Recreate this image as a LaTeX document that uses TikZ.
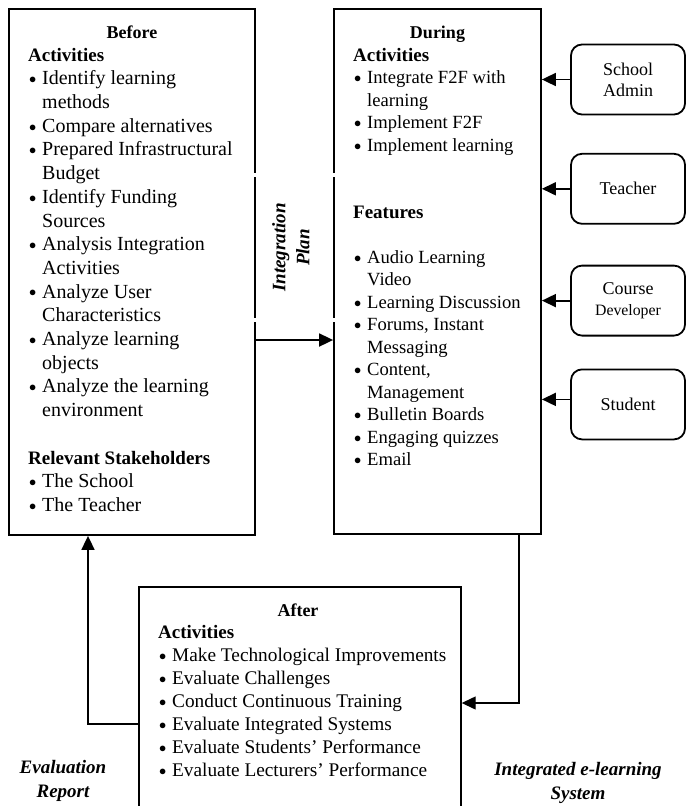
\documentclass[tikz,border=0pt]{standalone}
\usepackage{fontspec}
\setmainfont{Liberation Serif}
\usetikzlibrary{positioning,arrows.meta}
\newcommand{\itm}[1]{\hspace*{1pt}\makebox[13pt][l]{\raisebox{1.2pt}{\fontsize{15}{15}\selectfont$\bullet$}}#1}
\newcommand{\cnt}[1]{\hspace*{14pt}#1}
\newcommand{\hd}[1]{{\fontsize{19}{23}\selectfont\bfseries #1}}
\tikzset{
    phase/.style={draw,line width=1.8pt,inner sep=0pt},
    phasetitle/.style={anchor=base,inner sep=0pt,font=\fontsize{18}{20}\selectfont\bfseries},
    phasetext/.style={anchor=north west,align=left,inner sep=0pt,execute at begin node=\strut},
    actor/.style={draw,line width=1.8pt,rounded corners=11pt,minimum width=114pt,minimum height=70pt,inner sep=0pt,align=center,font=\fontsize{18}{21}\selectfont},
    flow/.style={draw,line width=1.8pt,-{Triangle[length=14pt,width=13pt]}},
    caption/.style={align=center,inner sep=0pt,font=\fontsize{19}{24}\selectfont\bfseries\itshape},
}

\begin{document}
\begin{tikzpicture}[x=1pt,y=-1pt]
    \useasboundingbox (0,0) rectangle (686,806);
    \clip (0,0) rectangle (686,806);

    % the three phases
    \node[phase,minimum width=246pt,minimum height=526pt] (before) at (132,272) {};
    \node[phase,minimum width=207pt,minimum height=525pt] (during) at (437.5,271.5) {};
    \node[phase,line width=1.4pt,minimum width=322pt,minimum height=232pt] (after) at (300,703) {};

    \node[phasetitle] (beforetitle) at (132,38) {Before};
    \node[phasetitle] (duringtitle) at (437.5,38) {During};
    \node[phasetitle] (aftertitle) at (298,616) {After};

    \node[phasetext,font=\fontsize{20}{23.7}\selectfont] (beforetext) at (28,47.8) {%
        \hd{Activities}\\
        \itm{Identify learning}\\
        \cnt{methods}\\
        \itm{Compare alternatives}\\
        \itm{Prepared Infrastructural}\\
        \cnt{Budget}\\
        \itm{Identify Funding}\\
        \cnt{Sources}\\
        \itm{Analysis Integration}\\
        \cnt{Activities}\\
        \itm{Analyze User}\\
        \cnt{Characteristics}\\
        \itm{Analyze learning}\\
        \cnt{objects}\\
        \itm{Analyze the learning}\\
        \cnt{environment}\\[23.7pt]
        \hd{Relevant Stakeholders}\\
        \itm{The School}\\
        \itm{The Teacher}};

    \node[phasetext,font=\fontsize{18.6}{22.5}\selectfont] (duringtext) at (353,48) {%
        \hd{Activities}\\
        \itm{Integrate F2F with}\\
        \cnt{learning}\\
        \itm{Implement F2F}\\
        \itm{Implement learning}\\[44.6pt]
        \hd{Features}\\[22.3pt]
        \itm{Audio Learning}\\
        \cnt{Video}\\
        \itm{Learning Discussion}\\
        \itm{Forums, Instant}\\
        \cnt{Messaging}\\
        \itm{Content,}\\
        \cnt{Management}\\
        \itm{Bulletin Boards}\\
        \itm{Engaging quizzes}\\
        \itm{Email}};

    \node[phasetext,font=\fontsize{19.3}{23}\selectfont] (aftertext) at (158,624.9) {%
        \hd{Activities}\\
        \itm{Make Technological Improvements}\\
        \itm{Evaluate Challenges}\\
        \itm{Conduct Continuous Training}\\
        \itm{Evaluate Integrated Systems}\\
        \itm{Evaluate Students’ Performance}\\
        \itm{Evaluate Lecturers’ Performance}};

    % users on the right
    \node[actor] (admin) at (628,79.5) {School\\Admin};
    \node[actor,below=37.5pt of admin] (teacher) {Teacher};
    \node[actor,below=40pt of teacher] (developer) {Course\\{\fontsize{15.8}{18}\selectfont Developer}};
    \node[actor,below=32pt of developer] (student) {Student};

    \node[caption,rotate=90,draw=white,line width=4pt,minimum width=145pt,minimum height=104pt] (plan) at (291,247.5) {Integration\\Plan};
    \node[caption] (report) at (63,781) {Evaluation\\Report};
    \node[caption] (system) at (578,783) {Integrated e-learning\\System};

    \draw[flow] (admin.west) -- (admin.west -| during.east);
    \draw[flow] (teacher.west) -- (teacher.west -| during.east);
    \draw[flow] (developer.west) -- (developer.west -| during.east);
    \draw[flow] ([yshift=5pt]student.west) -- ([yshift=5pt]student.west -| during.east);
    \draw[flow] ([yshift=-68pt]before.east) -- ([yshift=-68pt]before.east -| during.west);
    \draw[flow,line width=1.3pt] ([xshift=81.5pt]during.south) |- (after.east);
    \draw[flow] ([yshift=-21pt]after.west) -| ([xshift=-44pt]before.south);
\end{tikzpicture}
\end{document}
